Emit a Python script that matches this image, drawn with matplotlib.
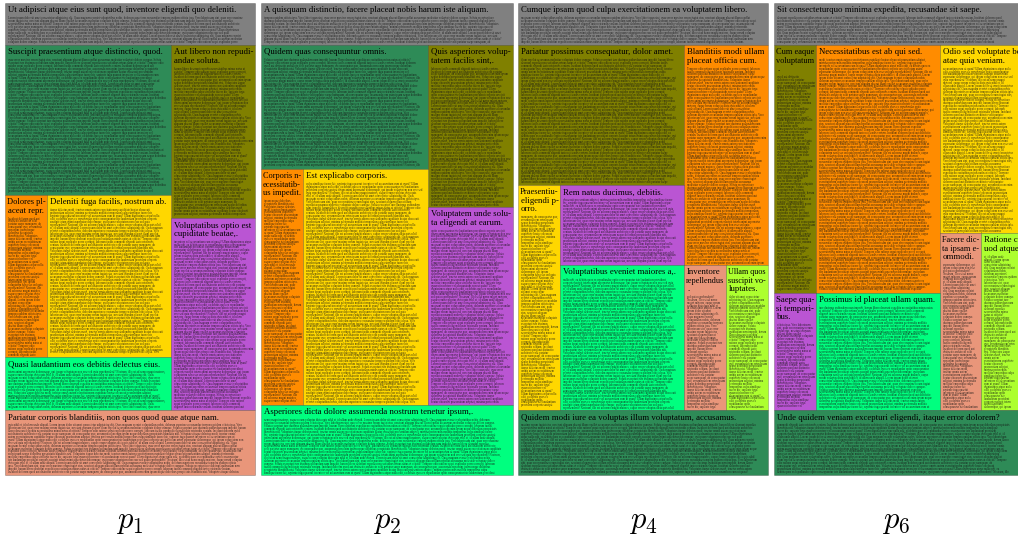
import matplotlib
matplotlib.use("Agg")
import matplotlib.pyplot as plt
from matplotlib.patches import Rectangle

plt.rcParams['font.family'] = ['Liberation Serif', 'DejaVu Serif']
plt.rcParams['mathtext.fontset'] = 'cm'

# page layouts: one list of blocks per page, (x0, y0, x1, y1) in pixels
page_labels = [r'$p_1$', r'$p_2$', r'$p_4$', r'$p_6$']
label_x = [130, 387, 643, 896]

p1_boxes = [(5, 3, 255, 45), (5, 45, 171, 195), (171, 45, 255, 218), (5, 195, 47, 357),
            (47, 195, 171, 357), (171, 218, 255, 410), (5, 357, 171, 410), (5, 410, 255, 475)]
p1_colors = ['gray', 'seagreen', 'olive', 'darkorange', 'gold', 'mediumorchid',
             'springgreen', 'darksalmon']
p1_titles = ['Ut adipisci atque eius sunt quod, inventore eligendi quo deleniti.',
             'Suscipit praesentium atque distinctio, quod.',
             'Aut libero non repudi-\nandae soluta.',
             'Dolores pl-\naceat repr.',
             'Deleniti fuga facilis, nostrum ab.',
             'Voluptatibus optio est\ncupiditate beatae,.',
             'Quasi laudantium eos debitis delectus eius.',
             'Pariatur corporis blanditiis, non quos quod quae atque nam.']

p2_boxes = [(261, 3, 513, 45), (261, 45, 428, 169), (428, 45, 513, 207), (261, 169, 303, 405),
            (303, 169, 428, 405), (428, 207, 513, 405), (261, 405, 513, 475)]
p2_colors = ['gray', 'seagreen', 'olive', 'darkorange', 'gold', 'mediumorchid', 'springgreen']
p2_titles = ['A quisquam distinctio, facere placeat nobis harum iste aliquam.',
             'Quidem quas consequuntur omnis.',
             'Quis asperiores volup-\ntatem facilis sint,.',
             'Corporis n-\necessitatib-\nus impedit.',
             'Est explicabo corporis.',
             'Voluptatem unde solu-\nta eligendi at earum.',
             'Asperiores dicta dolore assumenda nostrum tenetur ipsum,.']

p4_boxes = [(518, 3, 768, 45), (518, 45, 684, 185), (684, 45, 768, 265), (518, 185, 560, 410),
            (560, 185, 684, 265), (560, 265, 684, 410), (684, 265, 726, 410),
            (726, 265, 768, 410), (518, 410, 768, 475)]
p4_colors = ['gray', 'olive', 'darkorange', 'gold', 'mediumorchid', 'springgreen',
             'darksalmon', 'greenyellow', 'seagreen']
p4_titles = ['Cumque ipsam quod culpa exercitationem ea voluptatem libero.',
             'Pariatur possimus consequatur, dolor amet.',
             'Blanditiis modi ullam\nplaceat officia cum.',
             'Praesentiu-\neligendi p-\norro.',
             'Rem natus ducimus, debitis.',
             'Voluptatibus eveniet maiores a,.',
             'Inventore\nrepellendus\n.',
             'Ullam quos\nsuscipit vo-\nluptates.',
             'Quidem modi iure ea voluptas illum voluptatum, accusamus.']

p6_boxes = [(774, 3, 1018, 45), (774, 45, 816, 293), (816, 45, 940, 293), (940, 45, 1018, 233),
            (940, 233, 981, 410), (981, 233, 1018, 410), (774, 293, 816, 410),
            (816, 293, 940, 410), (774, 410, 1018, 475)]
p6_colors = ['gray', 'olive', 'darkorange', 'gold', 'darksalmon', 'greenyellow',
             'mediumorchid', 'springgreen', 'seagreen']
p6_titles = ['Sit consecteturquo minima expedita, recusandae sit saepe.',
             'Cum eaque\nvoluptatum\n.',
             'Necessitatibus est ab qui sed.',
             'Odio sed voluptate be-\natae quia veniam.',
             'Facere dic-\nta ipsam e-\nommodi.',
             'Ratione c-\nuod atque',
             'Saepe qua-\nsi tempori-\nbus.',
             'Possimus id placeat ullam quam.',
             'Unde quidem veniam excepturi eligendi, itaque error dolorem?']

LOREM = ("Lorem ipsum dolor sit amet consectetur adipisicing elit. Quas magnam eveniet "
         "voluptatibus nobis, dolorum asperiores recusandae tempora quidem officia ipsa. "
         "Vero laboriosam sint, quae error maxime rerum fugiat eius, nesciunt aliquam "
         "placeat illum repellat accusamus molestiae voluptate dolore cumque. Soluta "
         "excepturi iure ducimus quibusdam nam impedit, harum libero deserunt expedita "
         "necessitatibus minus natus at officiis? Tempore odio ratione sequi explicabo "
         "porro corrupti, laborum facilis commodi eligendi iusto reiciendis veniam. "
         "Incidunt dolorem quod aut distinctio architecto velit pariatur saepe numquam, "
         "ab consequatur quo, assumenda rem enim ipsam neque doloribus perspiciatis "
         "blanditiis nisi. Voluptates itaque delectus modi, tenetur omnis autem "
         "exercitationem cupiditate beatae obcaecati praesentium adipisci, minima "
         "perferendis mollitia temporibus culpa similique facere hic, sapiente fuga "
         "quaerat inventore vel accusantium eum ut quasi? Ullam dignissimos atque nulla "
         "odit, ea debitis quos ex repudiandae optio consequuntur iste laudantium "
         "provident corporis suscipit totam animi aspernatur doloremque, qui ipsum "
         "voluptatem non esse sed quia reprehenderit? Nostrum, illo est ad nemo magni "
         "maiores, eaque rerum voluptas dicta quis nihil et, id ullam unde aliquid.")
WORDS = LOREM.split()

TITLE_FS = 6.3
TITLE_PITCH = 8.3
BODY_FS = 2.1
BODY_PITCH = 2.9

fig = plt.figure(figsize=(10.18, 5.44), dpi=100)
ax = fig.add_axes([0, 0, 1, 1])
ax.set_xlim(0, 1018)
ax.set_ylim(544, 0)
ax.axis('off')

renderer = fig.canvas.get_renderer()
sample = ' '.join(WORDS[:60])
t = ax.text(0, 0, sample, fontsize=BODY_FS)
cw = t.get_window_extent(renderer).width / len(sample)
t.remove()

pages = [(p1_boxes, p1_colors, p1_titles), (p2_boxes, p2_colors, p2_titles),
         (p4_boxes, p4_colors, p4_titles), (p6_boxes, p6_colors, p6_titles)]

k = 0
for boxes, colors, titles in pages:
    for (x0, y0, x1, y1), c, title in zip(boxes, colors, titles):
        rect = Rectangle((x0, y0), x1 - x0, y1 - y0, facecolor=c,
                         edgecolor=(0, 0, 0, 0.25), lw=0.6)
        ax.add_patch(rect)
        tlines = title.split('\n')
        for j, s in enumerate(tlines):
            ht = ax.text(x0 + 3, y0 + 7.5 + j * TITLE_PITCH, s, fontsize=TITLE_FS,
                         va='center', ha='left', color='black', clip_on=True)
            tw = ht.get_window_extent(renderer).width
            avail = x1 - x0 - 4
            if tw > avail and x1 < 1015:
                ht.set_fontsize(TITLE_FS * avail / tw)
                ht.set_x(x0 + 2)
            ht.set_clip_path(rect)

        top = y0 + 4 + TITLE_PITCH * len(tlines) + 3
        nlines = int((y1 - 2 - top) / BODY_PITCH) + 1
        width = max(8, int((x1 - x0 - 6) / cw * 0.97))
        lines, cur = [], ''
        i = k * 23
        while len(lines) < nlines:
            w = WORDS[i % len(WORDS)]
            i += 1
            if len(cur) + len(w) + 1 > width:
                lines.append(cur)
                cur = w
            else:
                cur = (cur + ' ' + w).strip()
        k += 1
        for j, s in enumerate(lines):
            bt = ax.text(x0 + 3, top + j * BODY_PITCH, s, fontsize=BODY_FS, va='center',
                         ha='left', color=(0.08, 0.08, 0.08, 0.85), clip_on=True)
            bt.set_clip_path(rect)

for lab, x in zip(page_labels, label_x):
    ax.text(x, 522, lab, fontsize=22, ha='center', va='center')

fig.savefig('out.png', dpi=100)
